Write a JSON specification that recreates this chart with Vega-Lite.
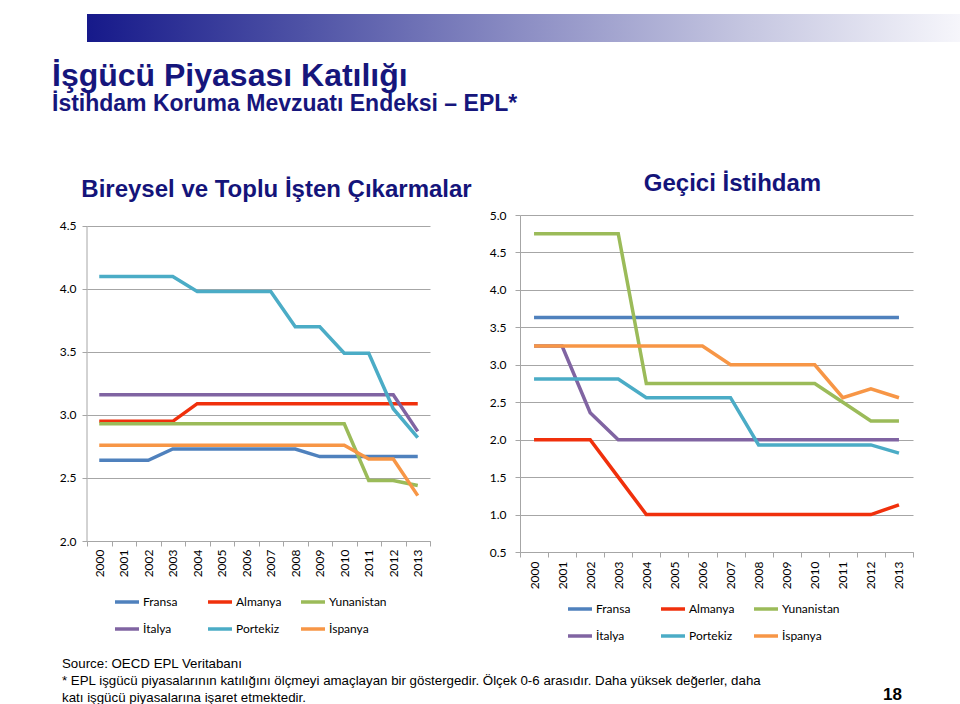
{
  "$schema": "https://vega.github.io/schema/vega-lite/v6.json",
  "padding": {"left": 52, "top": 14, "right": 0, "bottom": 0},
  "background": "white",
  "config": {
    "view": {"stroke": null},
    "font": "Liberation Sans",
    "axis": {"labelFont": "Lato", "labelFontSize": 12, "labelColor": "#000000", "gridColor": "#a6a6a6", "domainColor": "#a6a6a6", "tickColor": "#a6a6a6", "title": null},
    "legend": {"columns": 3, "direction": "horizontal", "symbolType": "stroke", "symbolStrokeWidth": 3.5, "symbolSize": 576, "labelFont": "Lato", "labelFontSize": 12, "labelColor": "#000000", "gridAlign": "all", "columnPadding": 0, "rowPadding": 6, "labelOffset": 2},
    "title": {"font": "Liberation Sans", "fontSize": 24, "fontWeight": "bold", "color": "#14147a", "anchor": "middle"}
  },
  "datasets": {
    "left": [
      {"c":"Fransa","y":2000,"v":2.64},{"c":"Fransa","y":2001,"v":2.64},{"c":"Fransa","y":2002,"v":2.64},{"c":"Fransa","y":2003,"v":2.73},{"c":"Fransa","y":2004,"v":2.73},{"c":"Fransa","y":2005,"v":2.73},{"c":"Fransa","y":2006,"v":2.73},{"c":"Fransa","y":2007,"v":2.73},{"c":"Fransa","y":2008,"v":2.73},{"c":"Fransa","y":2009,"v":2.67},{"c":"Fransa","y":2010,"v":2.67},{"c":"Fransa","y":2011,"v":2.67},{"c":"Fransa","y":2012,"v":2.67},{"c":"Fransa","y":2013,"v":2.67},
      {"c":"Almanya","y":2000,"v":2.95},{"c":"Almanya","y":2001,"v":2.95},{"c":"Almanya","y":2002,"v":2.95},{"c":"Almanya","y":2003,"v":2.95},{"c":"Almanya","y":2004,"v":3.09},{"c":"Almanya","y":2005,"v":3.09},{"c":"Almanya","y":2006,"v":3.09},{"c":"Almanya","y":2007,"v":3.09},{"c":"Almanya","y":2008,"v":3.09},{"c":"Almanya","y":2009,"v":3.09},{"c":"Almanya","y":2010,"v":3.09},{"c":"Almanya","y":2011,"v":3.09},{"c":"Almanya","y":2012,"v":3.09},{"c":"Almanya","y":2013,"v":3.09},
      {"c":"Yunanistan","y":2000,"v":2.93},{"c":"Yunanistan","y":2001,"v":2.93},{"c":"Yunanistan","y":2002,"v":2.93},{"c":"Yunanistan","y":2003,"v":2.93},{"c":"Yunanistan","y":2004,"v":2.93},{"c":"Yunanistan","y":2005,"v":2.93},{"c":"Yunanistan","y":2006,"v":2.93},{"c":"Yunanistan","y":2007,"v":2.93},{"c":"Yunanistan","y":2008,"v":2.93},{"c":"Yunanistan","y":2009,"v":2.93},{"c":"Yunanistan","y":2010,"v":2.93},{"c":"Yunanistan","y":2011,"v":2.48},{"c":"Yunanistan","y":2012,"v":2.48},{"c":"Yunanistan","y":2013,"v":2.44},
      {"c":"İtalya","y":2000,"v":3.16},{"c":"İtalya","y":2001,"v":3.16},{"c":"İtalya","y":2002,"v":3.16},{"c":"İtalya","y":2003,"v":3.16},{"c":"İtalya","y":2004,"v":3.16},{"c":"İtalya","y":2005,"v":3.16},{"c":"İtalya","y":2006,"v":3.16},{"c":"İtalya","y":2007,"v":3.16},{"c":"İtalya","y":2008,"v":3.16},{"c":"İtalya","y":2009,"v":3.16},{"c":"İtalya","y":2010,"v":3.16},{"c":"İtalya","y":2011,"v":3.16},{"c":"İtalya","y":2012,"v":3.16},{"c":"İtalya","y":2013,"v":2.87},
      {"c":"Portekiz","y":2000,"v":4.10},{"c":"Portekiz","y":2001,"v":4.10},{"c":"Portekiz","y":2002,"v":4.10},{"c":"Portekiz","y":2003,"v":4.10},{"c":"Portekiz","y":2004,"v":3.98},{"c":"Portekiz","y":2005,"v":3.98},{"c":"Portekiz","y":2006,"v":3.98},{"c":"Portekiz","y":2007,"v":3.98},{"c":"Portekiz","y":2008,"v":3.70},{"c":"Portekiz","y":2009,"v":3.70},{"c":"Portekiz","y":2010,"v":3.49},{"c":"Portekiz","y":2011,"v":3.49},{"c":"Portekiz","y":2012,"v":3.05},{"c":"Portekiz","y":2013,"v":2.82},
      {"c":"İspanya","y":2000,"v":2.76},{"c":"İspanya","y":2001,"v":2.76},{"c":"İspanya","y":2002,"v":2.76},{"c":"İspanya","y":2003,"v":2.76},{"c":"İspanya","y":2004,"v":2.76},{"c":"İspanya","y":2005,"v":2.76},{"c":"İspanya","y":2006,"v":2.76},{"c":"İspanya","y":2007,"v":2.76},{"c":"İspanya","y":2008,"v":2.76},{"c":"İspanya","y":2009,"v":2.76},{"c":"İspanya","y":2010,"v":2.76},{"c":"İspanya","y":2011,"v":2.65},{"c":"İspanya","y":2012,"v":2.65},{"c":"İspanya","y":2013,"v":2.36}
    ],
    "right": [
      {"c":"Fransa","y":2000,"v":3.63},{"c":"Fransa","y":2001,"v":3.63},{"c":"Fransa","y":2002,"v":3.63},{"c":"Fransa","y":2003,"v":3.63},{"c":"Fransa","y":2004,"v":3.63},{"c":"Fransa","y":2005,"v":3.63},{"c":"Fransa","y":2006,"v":3.63},{"c":"Fransa","y":2007,"v":3.63},{"c":"Fransa","y":2008,"v":3.63},{"c":"Fransa","y":2009,"v":3.63},{"c":"Fransa","y":2010,"v":3.63},{"c":"Fransa","y":2011,"v":3.63},{"c":"Fransa","y":2012,"v":3.63},{"c":"Fransa","y":2013,"v":3.63},
      {"c":"Almanya","y":2000,"v":2.0},{"c":"Almanya","y":2001,"v":2.0},{"c":"Almanya","y":2002,"v":2.0},{"c":"Almanya","y":2003,"v":1.5},{"c":"Almanya","y":2004,"v":1.0},{"c":"Almanya","y":2005,"v":1.0},{"c":"Almanya","y":2006,"v":1.0},{"c":"Almanya","y":2007,"v":1.0},{"c":"Almanya","y":2008,"v":1.0},{"c":"Almanya","y":2009,"v":1.0},{"c":"Almanya","y":2010,"v":1.0},{"c":"Almanya","y":2011,"v":1.0},{"c":"Almanya","y":2012,"v":1.0},{"c":"Almanya","y":2013,"v":1.13},
      {"c":"Yunanistan","y":2000,"v":4.75},{"c":"Yunanistan","y":2001,"v":4.75},{"c":"Yunanistan","y":2002,"v":4.75},{"c":"Yunanistan","y":2003,"v":4.75},{"c":"Yunanistan","y":2004,"v":2.75},{"c":"Yunanistan","y":2005,"v":2.75},{"c":"Yunanistan","y":2006,"v":2.75},{"c":"Yunanistan","y":2007,"v":2.75},{"c":"Yunanistan","y":2008,"v":2.75},{"c":"Yunanistan","y":2009,"v":2.75},{"c":"Yunanistan","y":2010,"v":2.75},{"c":"Yunanistan","y":2011,"v":2.5},{"c":"Yunanistan","y":2012,"v":2.25},{"c":"Yunanistan","y":2013,"v":2.25},
      {"c":"İtalya","y":2000,"v":3.25},{"c":"İtalya","y":2001,"v":3.25},{"c":"İtalya","y":2002,"v":2.36},{"c":"İtalya","y":2003,"v":2.0},{"c":"İtalya","y":2004,"v":2.0},{"c":"İtalya","y":2005,"v":2.0},{"c":"İtalya","y":2006,"v":2.0},{"c":"İtalya","y":2007,"v":2.0},{"c":"İtalya","y":2008,"v":2.0},{"c":"İtalya","y":2009,"v":2.0},{"c":"İtalya","y":2010,"v":2.0},{"c":"İtalya","y":2011,"v":2.0},{"c":"İtalya","y":2012,"v":2.0},{"c":"İtalya","y":2013,"v":2.0},
      {"c":"Portekiz","y":2000,"v":2.81},{"c":"Portekiz","y":2001,"v":2.81},{"c":"Portekiz","y":2002,"v":2.81},{"c":"Portekiz","y":2003,"v":2.81},{"c":"Portekiz","y":2004,"v":2.56},{"c":"Portekiz","y":2005,"v":2.56},{"c":"Portekiz","y":2006,"v":2.56},{"c":"Portekiz","y":2007,"v":2.56},{"c":"Portekiz","y":2008,"v":1.93},{"c":"Portekiz","y":2009,"v":1.93},{"c":"Portekiz","y":2010,"v":1.93},{"c":"Portekiz","y":2011,"v":1.93},{"c":"Portekiz","y":2012,"v":1.93},{"c":"Portekiz","y":2013,"v":1.82},
      {"c":"İspanya","y":2000,"v":3.25},{"c":"İspanya","y":2001,"v":3.25},{"c":"İspanya","y":2002,"v":3.25},{"c":"İspanya","y":2003,"v":3.25},{"c":"İspanya","y":2004,"v":3.25},{"c":"İspanya","y":2005,"v":3.25},{"c":"İspanya","y":2006,"v":3.25},{"c":"İspanya","y":2007,"v":3.0},{"c":"İspanya","y":2008,"v":3.0},{"c":"İspanya","y":2009,"v":3.0},{"c":"İspanya","y":2010,"v":3.0},{"c":"İspanya","y":2011,"v":2.56},{"c":"İspanya","y":2012,"v":2.68},{"c":"İspanya","y":2013,"v":2.56}
    ],
    "footer": [
      {"side":"l","line":1,"t":"Source: OECD EPL Veritabanı"},
      {"side":"l","line":2,"t":"* EPL işgücü piyasalarının katılığını ölçmeyi amaçlayan bir göstergedir. Ölçek 0-6 arasıdır. Daha yüksek değerler, daha"},
      {"side":"l","line":3,"t":"katı işgücü piyasalarına işaret etmektedir."},
      {"side":"r","line":3,"t":"18"}
    ]
  },
  "vconcat": [
    {
      "vconcat": [
        {
          "width": 873,
          "height": 28,
          "data": {"values": [{"part": "banner"}]},
          "title": {"text": "İşgücü Piyasası Katılığı", "subtitle": "İstihdam Koruma Mevzuatı Endeksi – EPL*", "orient": "bottom", "anchor": "start", "dx": -35, "offset": 19, "fontSize": 32, "subtitleFontSize": 23, "fontWeight": "bold", "subtitleFontWeight": "bold", "color": "#16167c", "subtitleColor": "#16167c", "subtitleFont": "Liberation Sans", "subtitlePadding": 0},
          "mark": {"type": "rect", "color": {"gradient": "linear", "x1": 0, "x2": 1, "y1": 0, "y2": 0, "stops": [{"offset": 0, "color": "#16198a"}, {"offset": 0.25, "color": "#4f53a6"}, {"offset": 0.5, "color": "#8c8ec4"}, {"offset": 0.75, "color": "#c4c5e0"}, {"offset": 1, "color": "#f6f6fb"}]}},
          "encoding": {
            "x": {"datum": 0, "type": "quantitative", "scale": {"domain": [0, 1]}, "axis": null},
            "x2": {"datum": 1},
            "y": {"datum": 0, "type": "quantitative", "scale": {"domain": [0, 1]}, "axis": null},
            "y2": {"datum": 1}
          }
        },
        {
          "hconcat": [
            {
              "width": 343,
              "height": 326,
              "title": {"text": "Bireysel ve Toplu İşten Çıkarmalar", "dx": 18, "offset": 13},
              "layer": [
                {
                  "data": {"values": [{"part": "axis"}]},
                  "mark": {"type": "rule", "color": "#a6a6a6", "strokeWidth": 1},
                  "encoding": {
                    "x": {"datum": 2000, "type": "ordinal", "bandPosition": 0},
                    "y": {"datum": 2, "type": "quantitative"},
                    "y2": {"datum": 4.5}
                  }
                },
                {
                  "data": {"name": "left"},
                  "mark": {"type": "line", "strokeWidth": 3.5},
                  "encoding": {
                    "x": {"field": "y", "type": "ordinal", "scale": {"type": "band", "paddingInner": 0, "paddingOuter": 0}, "bandPosition": 0.5, "axis": {"labelAngle": -90, "labelAlign": "right", "labelBaseline": "middle", "tickBand": "extent", "tickSize": 5, "labelPadding": 3, "grid": false}},
                    "y": {"field": "v", "type": "quantitative", "scale": {"domain": [2, 4.5873], "nice": false, "zero": false}, "axis": {"values": [2, 2.5, 3, 3.5, 4, 4.5], "format": ".1f", "grid": true, "domain": false, "tickSize": 5, "labelPadding": 6}},
                    "color": {"field": "c", "type": "nominal", "scale": {"domain": ["Fransa", "Almanya", "Yunanistan", "İtalya", "Portekiz", "İspanya"], "range": ["#4F81BD", "#F0300C", "#9BBB59", "#8064A2", "#4BACC6", "#F79646"]}, "legend": {"title": null, "orient": "none", "legendX": 26, "legendY": 373}}
                  }
                }
              ]
            },
            {
              "width": 393,
              "height": 337,
              "title": {"text": "Geçici İstihdam", "dx": 16, "offset": 13},
              "data": {"name": "right"},
              "mark": {"type": "line", "strokeWidth": 3.5},
              "encoding": {
                "x": {"field": "y", "type": "ordinal", "scale": {"type": "band", "paddingInner": 0, "paddingOuter": 0}, "bandPosition": 0.5, "axis": {"labelAngle": -90, "labelAlign": "right", "labelBaseline": "middle", "tickBand": "extent", "tickSize": 5, "labelPadding": 4, "grid": false}},
                "y": {"field": "v", "type": "quantitative", "scale": {"domain": [0.5, 5], "nice": false, "zero": false}, "axis": {"values": [0.5, 1, 1.5, 2, 2.5, 3, 3.5, 4, 4.5, 5], "format": ".1f", "grid": true, "tickSize": 5, "labelPadding": 9}},
                "color": {"field": "c", "type": "nominal", "scale": {"domain": ["Fransa", "Almanya", "Yunanistan", "İtalya", "Portekiz", "İspanya"], "range": ["#4F81BD", "#F0300C", "#9BBB59", "#8064A2", "#4BACC6", "#F79646"]}, "legend": {"title": null, "orient": "none", "legendX": 46, "legendY": 380}}
              }
            }
          ],
          "spacing": 17,
          "resolve": {"scale": {"color": "independent", "x": "independent", "y": "independent"}, "legend": {"color": "independent"}}
        }
      ],
      "spacing": 56
    },
    {
      "width": 815,
      "height": 51,
      "data": {"name": "footer"},
      "encoding": {
        "x": {"field": "side", "type": "nominal", "scale": {"type": "point", "domain": ["l", "r"], "padding": 0}, "axis": null},
        "y": {"field": "line", "type": "quantitative", "scale": {"domain": [0, 3], "reverse": true}, "axis": null},
        "text": {"field": "t"}
      },
      "layer": [
        {"transform": [{"filter": "datum.side == 'l'"}], "mark": {"type": "text", "align": "left", "baseline": "alphabetic", "fontSize": 13.3, "font": "Liberation Sans", "color": "#000000", "dx": -25}},
        {"transform": [{"filter": "datum.side == 'r'"}], "mark": {"type": "text", "align": "right", "baseline": "alphabetic", "fontSize": 17, "fontWeight": "bold", "font": "Liberation Sans", "color": "#000000", "dy": -2}}
      ]
    }
  ],
  "spacing": 8
}
